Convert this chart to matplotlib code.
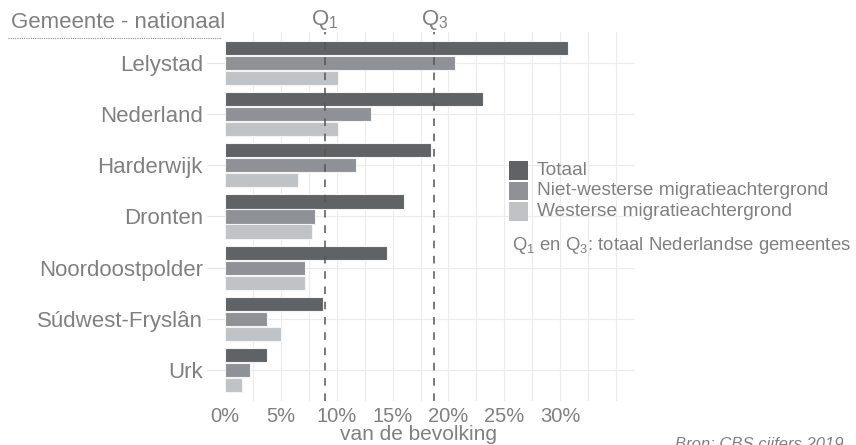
import matplotlib
matplotlib.use("Agg")
import matplotlib.pyplot as plt
from matplotlib.lines import Line2D
from matplotlib.patches import Rectangle
import numpy as np

plt.rcParams['font.family'] = ['Liberation Sans', 'DejaVu Sans']
plt.rcParams['mathtext.fontset'] = 'custom'
plt.rcParams['mathtext.rm'] = 'Liberation Sans'
plt.rcParams['mathtext.it'] = 'Liberation Sans:italic'

categories = ["Lelystad", "Nederland", "Harderwijk", "Dronten", "Noordoostpolder", "Súdwest-Fryslân", "Urk"]
totaal = [30.7, 23.1, 18.4, 16.05, 14.5, 8.8, 3.8]
niet_westers = [20.6, 13.1, 11.7, 8.1, 7.2, 3.8, 2.2]
westers = [10.1, 10.1, 6.5, 7.8, 7.2, 5.0, 1.5]
series_names = ["Totaal", "Niet-westerse migratieachtergrond", "Westerse migratieachtergrond"]
colors = ["#5f6366", "#8e9196", "#bfc3c6"]
q1, q3 = 8.95, 18.75
xticks = [0, 5, 10, 15, 20, 25, 30]
xtick_labels = ["0%", "5%", "10%", "15%", "20%", "25%", "30%"]

W, H = 856, 445
fig = plt.figure(figsize=(W/100, H/100), dpi=100)
ax = fig.add_axes([225/W, 1-401/H, (635-225)/W, (401-32)/H])

text_col = "#808080"
y = np.arange(len(categories))
bh = 0.275
off = 0.293
for vals, c, o in zip([totaal, niet_westers, westers], colors, [-off, 0, off]):
    ax.barh(y + o, vals, height=bh, color=c, edgecolor="#f4f4f4", linewidth=0.8, zorder=2)

ax.set_xlim(0, 36.7)
ax.set_ylim(len(categories) - 1 + 0.6, -0.6)

# grid
for gx in np.arange(2.5, 36, 2.5):
    ax.axvline(gx, color="#ebebeb", lw=0.8, zorder=0)
for gy in y:
    ax.axhline(gy, color="#ebebeb", lw=0.8, zorder=0)

ax.axvline(q1, color="#555555", lw=1.1, ls=(0, (5, 5)), zorder=3)
ax.axvline(q3, color="#555555", lw=1.1, ls=(0, (5, 5)), zorder=3)

for s in ax.spines.values():
    s.set_visible(False)

ax.set_yticks(y)
ax.set_yticklabels(categories, fontsize=16, color=text_col)
ax.tick_params(axis='y', length=13, width=0.8, color="#e3e3e3", pad=3)
ax.set_xticks(xticks)
ax.set_xticklabels(xtick_labels, fontsize=14.5, color=text_col)
ax.tick_params(axis='x', length=0, pad=4)

fig.text(418/W, 1-435/H, "van de bevolking", fontsize=15, color=text_col, ha="center", va="center")

# Q labels
ax.text(q1, 1.0, "Q$_1$", transform=ax.get_xaxis_transform(), ha="center", va="bottom",
        fontsize=16, color=text_col)
ax.text(q3, 1.0, "Q$_3$", transform=ax.get_xaxis_transform(), ha="center", va="bottom",
        fontsize=16, color=text_col)

# Header
fig.text(11/W, 1-22/H, "Gemeente - nationaal", fontsize=16, color=text_col, ha="left", va="center")
fig.add_artist(Line2D([8/W, 221/W], [1-37.5/H, 1-37.5/H], color="#909090", lw=0.8, ls=(0, (1, 1))))

# Legend
lx, ly0, sz, step = 509, 161, 18.5, 20.5
for i, (name, c) in enumerate(zip(series_names, colors)):
    top = ly0 + i*step
    fig.add_artist(Rectangle((lx/W, 1-(top+sz)/H), sz/W, sz/H, facecolor=c, edgecolor="none"))
    fig.text(537/W, 1-(top+sz/2)/H, name, fontsize=13.8, color=text_col, ha="left", va="center")
fig.text(512/W, 1-245/H, "Q$_1$ en Q$_3$: totaal Nederlandse gemeentes", fontsize=13.3,
         color=text_col, ha="left", va="center")

fig.text(675/W, 1-437/H, "Bron: CBS cijfers 2019", fontsize=12, style="italic",
         color=text_col, ha="left", va="top")

fig.savefig("out.png", dpi=100)
